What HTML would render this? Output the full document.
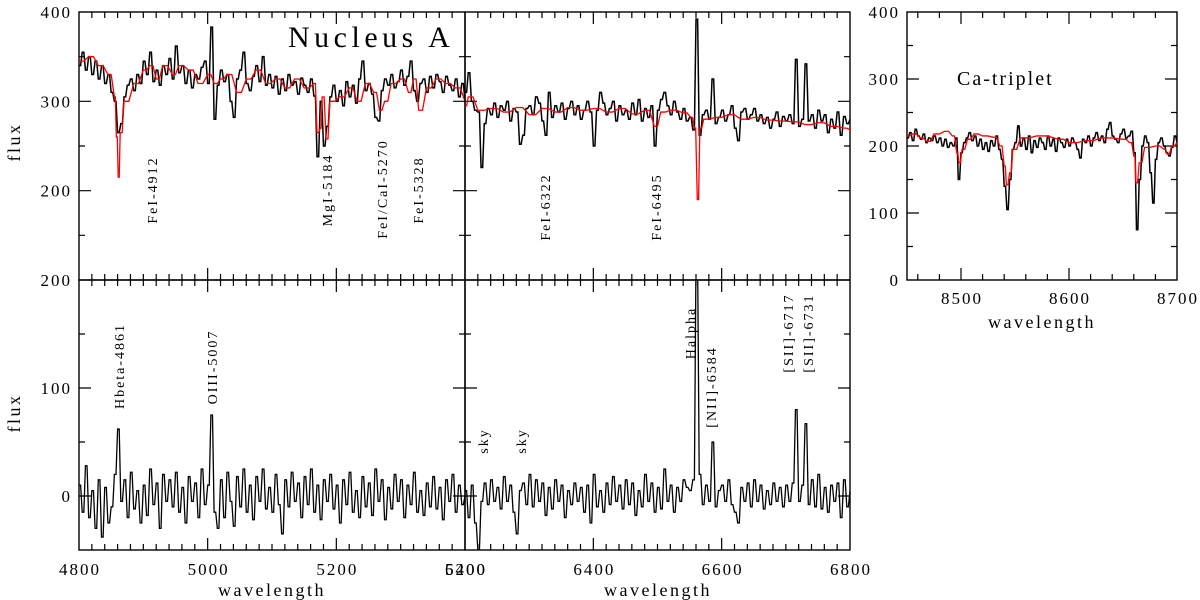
<!DOCTYPE html>
<html><head><meta charset="utf-8"><style>
html,body{margin:0;padding:0;background:#fff;}
svg{display:block;}
text{fill:#000;}
.num{font-family:"Liberation Serif",serif;font-size:17px;letter-spacing:2px;}
.ttl{font-family:"Liberation Serif",serif;font-size:18px;letter-spacing:2.5px;}
.ann{font-family:"Liberation Serif",serif;font-size:14px;letter-spacing:2px;}
</style></head><body>
<svg id="chart" width="1200" height="600" viewBox="0 0 1200 600" xmlns="http://www.w3.org/2000/svg">
<defs>
<clipPath id="cTL"><rect x="79" y="12" width="386" height="268"/></clipPath>
<clipPath id="cTM"><rect x="465" y="12" width="385" height="268"/></clipPath>
<clipPath id="cBL"><rect x="79" y="280" width="386" height="270"/></clipPath>
<clipPath id="cBM"><rect x="465" y="280" width="385" height="270"/></clipPath>
<clipPath id="cR"><rect x="907" y="12" width="270" height="268"/></clipPath>
</defs>
<g id="layer"></g>
</svg>
<script>
// ---------- data ----------
const blueStart = 4800, blueStep = 5;
const blueFlux = [
340,355,335,350,330,345,325,340,320,330,
310,300,265,275,305,318,325,312,330,320,
345,330,355,322,335,318,340,330,348,325,
362,332,340,320,335,315,330,325,338,345,
320,383,280,318,335,322,330,300,282,325,
335,355,320,312,328,340,322,350,318,330,
315,328,308,325,312,330,318,322,308,326,
318,310,325,306,238,300,250,272,305,318,
300,312,295,322,305,318,298,325,345,312,
320,308,282,278,312,325,318,330,315,322,
335,318,328,345,312,300,320,325,310,328,
315,330,322,310,328,318,312,325,305,320,
300];
const blueModelWl = [4800,4815,4830,4845,4855,4858,4861,4864,4870,4885,4900,4910,4920,4930,4945,4955,4970,4985,5000,5010,5020,5030,5045,5060,5075,5090,5105,5120,5135,5150,5165,5170,5175,5178,5184,5190,5205,5220,5232,5245,5258,5267,5275,5285,5300,5312,5320,5328,5340,5355,5370,5385,5400];
const blueModelFlux = [345,350,340,330,305,260,215,265,300,320,335,340,325,340,330,340,335,320,330,320,325,330,310,325,335,320,325,315,325,315,320,265,270,305,258,300,305,315,300,320,310,290,300,320,325,310,325,290,315,325,320,315,300];
const redStart = 6200, redStep = 5;
const redFlux = [
310,332,300,290,288,226,275,292,285,298,
282,295,290,300,278,292,288,252,262,292,
295,285,305,298,278,262,310,282,295,288,
298,280,292,300,285,295,280,290,300,288,
250,290,310,298,285,292,300,278,295,285,
290,280,298,285,302,278,292,282,295,250,
290,302,310,295,285,300,288,280,292,278,
282,268,392,262,285,290,280,325,275,282,
290,278,285,295,270,256,288,292,280,285,
292,278,285,275,282,270,280,288,272,283,
278,285,275,347,272,280,342,278,285,270,
290,278,285,265,280,270,288,262,283,275,
280];
const redModelWl = [6200,6205,6220,6240,6260,6280,6300,6320,6340,6360,6380,6400,6420,6440,6460,6480,6495,6505,6520,6540,6552,6557,6562,6566,6572,6590,6610,6630,6650,6670,6690,6710,6730,6750,6770,6790,6800];
const redModelFlux = [295,305,290,292,288,293,285,292,288,293,290,292,288,292,286,290,272,288,290,287,282,270,190,270,280,282,285,280,282,279,278,277,274,276,272,270,268];
const blueResid = [
10,-15,28,-20,5,-30,15,-38,8,-25,
-10,20,62,-5,15,-20,22,-12,5,-25,
10,-18,25,-8,12,-30,20,-5,15,-10,
22,-15,8,-25,18,-5,12,-20,25,-8,
10,75,-15,-30,15,-20,22,-5,-28,18,
-10,25,-15,10,-22,18,-5,25,-12,8,
-15,20,-8,-35,15,-10,22,-5,12,-20,
18,-8,25,-15,10,-22,15,-5,20,-12,
10,-25,15,-8,22,-15,5,-20,18,-10,
12,-18,25,-5,15,-22,8,-12,20,-5,
15,-20,10,-8,22,-15,5,-18,12,-10,
18,-12,8,-22,15,-5,20,-15,10,-8,
0];
const redResid = [
5,-20,10,-25,-50,-5,12,-8,15,-5,
8,-12,18,-5,10,-15,-35,5,12,-8,
20,-10,15,-5,12,-18,8,-12,15,-5,
10,-20,5,-8,12,-5,8,-15,10,-25,
20,-10,5,-15,12,-8,18,-5,10,-12,
15,-8,12,-18,5,-10,20,-5,12,-15,
8,-12,25,-5,10,-15,8,-5,15,8,
5,15,220,20,-8,10,-5,50,-10,5,
10,-5,15,-8,-15,-25,8,-5,12,-10,
15,-5,10,-12,5,-8,12,-5,8,-10,
10,-5,12,80,-5,10,67,-8,15,-10,
20,-12,8,-15,10,-5,12,-20,15,-10,
5];
const caStart = 8450, caStep = 2.5;
const caFlux = [
212,220,208,225,215,210,218,205,212,208,
215,205,212,200,210,198,205,200,212,150,
190,205,212,220,208,215,200,210,195,205,
192,208,200,215,195,180,140,105,150,195,
205,230,200,212,195,215,190,208,198,212,
205,195,215,200,210,192,212,205,198,210,
200,212,205,195,182,210,205,215,200,212,
220,208,215,205,225,235,215,210,205,218,
225,212,215,222,190,75,150,200,215,205,
160,115,180,205,212,200,190,185,198,215,
205];
const caModelWl = [8450,8455,8462,8468,8475,8485,8492,8496,8498,8501,8506,8512,8520,8530,8536,8540,8542,8545,8548,8555,8570,8590,8600,8615,8630,8650,8656,8660,8662,8665,8670,8680,8688,8691,8695,8700];
const caModelFlux = [215,218,212,207,218,222,215,190,175,195,210,218,215,213,200,170,142,160,195,212,215,210,205,208,212,210,205,185,145,175,198,200,195,188,200,205];

const topLeftYTicks = ["400","300","200"];
const botLeftYTicks = ["200","100","0"];
const caYTicks = ["0","100","200","300","400"];
const blueXTicks = ["4800","5000","5200","5400"];
const redXTicks = ["6200","6400","6600","6800"];
const caXTicks = ["8500","8600","8700"];

// ---------- helpers ----------
const NS = "http://www.w3.org/2000/svg";
const layer = document.getElementById('layer');
function mk(tag, attrs, parent){ const e=document.createElementNS(NS,tag); for(const k in attrs) e.setAttribute(k,attrs[k]); (parent||layer).appendChild(e); return e; }
function scale(d0,d1,r0,r1){ return v => r0 + (v-d0)/(d1-d0)*(r1-r0); }

function panel(name, x0,x1,y0,y1, wl0,wl1, f0,f1, minorX, majorX, minorY, majorY, firstMinorX){
  const p = {x:scale(wl0,wl1,x0,x1), y:scale(f0,f1,y1,y0)};
  const g = mk('g',{});
  
  
  const fr = mk('rect',{x:x0,y:y0,width:x1-x0,height:y1-y0,fill:'none',stroke:'#000','stroke-width':1.4},g);
  
  
  let d='';
  for(let w=firstMinorX; w<=wl1+0.001; w+=minorX){
    const X=p.x(w); if(X<x0+0.5||X>x1-0.5) continue;
    const L = (Math.abs(Math.round(w/majorX)*majorX-w)<0.01)?12:6;
    d+=`M${X},${y1}v${-L}M${X},${y0}v${L}`;
  }
  for(let f=f0; f<=f1+0.001; f+=minorY){
    const Y=p.y(f); if(Y<y0+0.5||Y>y1-0.5) continue;
    const L = (Math.abs(Math.round(f/majorY)*majorY-f)<0.01)?12:6;
    d+=`M${x0},${Y}h${L}M${x1},${Y}h${-L}`;
  }
  const t = mk('path',{d:d,stroke:'#000','stroke-width':1.2,fill:'none'},g);
  
  
  p.g=g; return p;
}
function stepLine(p, wls, vals, color, clip, name, w){
  let d='';
  for(let i=0;i<vals.length;i++){
    const X=p.x(wls[i]), Y=p.y(vals[i]);
    const Xn = i<vals.length-1 ? p.x(wls[i+1]) : X;
    if(i===0) d+=`M${X},${Y}`; else d+=`L${X},${Y}`;
    d+=`L${(X+Xn)/2},${Y}`;
  }
  const e = mk('path',{d:d,stroke:color,'stroke-width':w||1.5,fill:'none','clip-path':`url(#${clip})`,'stroke-linejoin':'miter'},p.g);
  
  
}
function seq(start, step, n){ const a=[]; for(let i=0;i<n;i++) a.push(start+i*step); return a; }
function txt(s, x, y, cls, anchor, rot, name){
  const e = mk('text',{x:x,y:y,class:cls,'text-anchor':anchor||'middle'});
  if(rot) e.setAttribute('transform',`rotate(-90 ${x} ${y})`);
  e.textContent=s;
  
  
  return e;
}

// ---------- panels ----------
const TL = panel('top-left-panel',79,465,12,280,4800,5400,100,400,20,200,50,100,4820);
stepLine(TL, seq(blueStart,blueStep,blueFlux.length), blueFlux, '#000','cTL','blue-observed-spectrum');
stepLine(TL, blueModelWl, blueModelFlux, '#f00','cTL','blue-model-spectrum',1.3);

const TM = panel('top-middle-panel',465,850,12,280,6200,6800,100,400,20,200,50,100,6220);
stepLine(TM, seq(redStart,redStep,redFlux.length), redFlux, '#000','cTM','red-observed-spectrum');
stepLine(TM, redModelWl, redModelFlux, '#f00','cTM','red-model-spectrum',1.3);

const BL = panel('bottom-left-panel',79,465,280,550,4800,5400,-50,200,20,200,50,100,4820);
stepLine(BL, seq(blueStart,blueStep,blueResid.length), blueResid, '#000','cBL','blue-residual-spectrum',1.3);

const BM = panel('bottom-middle-panel',465,850,280,550,6200,6800,-50,200,20,200,50,100,6220);
stepLine(BM, seq(redStart,redStep,redResid.length), redResid, '#000','cBM','red-residual-spectrum',1.3);

const R = panel('ca-triplet-panel',907,1177,12,280,8450,8700,0,400,20,100,50,100,8460);
stepLine(R, seq(caStart,caStep,caFlux.length), caFlux, '#000','cR','ca-observed-spectrum');
stepLine(R, caModelWl, caModelFlux, '#f00','cR','ca-model-spectrum',1.3);

// ---------- tick labels ----------
topLeftYTicks.forEach(s=>txt(s,72,TL.y(+s)+6,'num','end',false,'y-tick-label'));
botLeftYTicks.forEach(s=>txt(s,72,BL.y(+s)+6,'num','end',false,'y-tick-label'));
caYTicks.forEach(s=>txt(s,900,R.y(+s)+6,'num','end',false,'ca-y-tick-label'));
blueXTicks.forEach(s=>txt(s,BL.x(+s)+1,575,'num','middle',false,'x-tick-label'));
redXTicks.forEach(s=>txt(s,BM.x(+s)+1,575,'num','middle',false,'x-tick-label'));
caXTicks.forEach(s=>txt(s,R.x(+s)+1,304,'num','middle',false,'ca-x-tick-label'));

// ---------- axis titles ----------
txt('flux',20,142,'ttl','middle',true,'top-y-axis-title');
txt('flux',20,413,'ttl','middle',true,'bottom-y-axis-title');
txt('wavelength',272,596,'ttl','middle',false,'x-axis-title-left');
txt('wavelength',658,596,'ttl','middle',false,'x-axis-title-right');
txt('wavelength',1042,328,'ttl','middle',false,'ca-x-axis-title');

// ---------- annotations ----------
const n = txt('Nucleus A',288,47,'ttl','start',false,'panel-title');
n.setAttribute('style','font-family:"Liberation Serif",serif;font-size:30px;letter-spacing:4.5px;');
const c = txt('Ca-triplet',957,85,'ttl','start',false,'ca-triplet-title');
c.setAttribute('style','font-family:"Liberation Serif",serif;font-size:20px;letter-spacing:2px;');
function ann(s,x,yc){ txt(s,x+5,yc,'ann','middle',true,'line-label'); }
ann('FeI-4912',152,190); ann('MgI-5184',327,190); ann('FeI/CaI-5270',382,189); ann('FeI-5328',418,190);
ann('FeI-6322',545,207); ann('FeI-6495',656,207);
ann('Hbeta-4861',119,366); ann('OIII-5007',212,367);
ann('sky',483,441); ann('sky',521,441); ann('Halpha',690,333); ann('[NII]-6584',711,387);
ann('[SII]-6717',788,333); ann('[SII]-6731',808,333);
</script>
</body></html>
